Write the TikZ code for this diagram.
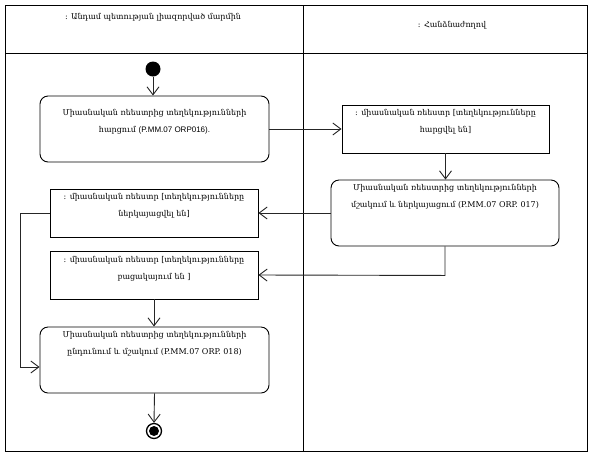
\documentclass[tikz,border=0pt]{standalone}
\usepackage{fontspec}
\setmainfont{DejaVu Serif}
\newfontfamily\sansf{Liberation Sans}
\usetikzlibrary{arrows.meta}
\begin{document}
\begin{tikzpicture}[x=1pt,y=-1pt,
  act/.style={draw=black, line width=0.9pt, rounded corners=8pt, inner sep=0pt, minimum width=229pt, minimum height=66pt},
  obj/.style={draw=black, line width=0.9pt, inner sep=0pt, minimum width=208pt, minimum height=48pt},
  txt/.style={anchor=north, inner sep=0pt, align=center, font=\fontsize{8}{16.5}\selectfont},
  hdr/.style={inner sep=0pt, font=\fontsize{8}{9}\selectfont},
  flow/.style={draw=black!85, line width=0.9pt, -{Straight Barb[length=8pt,width=12pt]}}]
\useasboundingbox (0,0) rectangle (591,456);
\fill[white] (0,0) rectangle (591,456);
% lanes
\draw[line width=0.9pt] (5,5) rectangle (587,451);
\draw[line width=0.9pt] (5,53) -- (587,53);
\draw[line width=0.9pt] (303,5) -- (303,451);
\node[hdr] (h1) at (153,17) {: Անդամ պետության լիազորված մարմին};
\node[hdr] (h2) at (452,25) {: Հանձնաժողով};
% start / end
\node[circle, fill=black, inner sep=0pt, minimum size=15pt] (st) at (153,69) {};
\node[circle, draw=black, line width=1.3pt, inner sep=0pt, minimum size=15pt] (en) at (154,431) {};
\node[circle, fill=black, inner sep=0pt, minimum size=10pt] (enin) at (154,431) {};
% boxes
\node[act] (b1) at (154.5,129) {};
\node[obj, minimum width=207pt] (b2) at (445.5,129) {};
\node[act, minimum width=228pt] (b3) at (445,213) {};
\node[obj] (b4) at (154,213) {};
\node[obj] (b5) at (154,275) {};
\node[act] (b6) at (154.5,360) {};
% texts
\node[txt] (t1) at ([yshift=-14pt]b1.north) {Միասնական ռեեստրից տեղեկությունների\\ հարցում {\sansf (P.MM.07 ORP016).}};
\node[txt] (t2) at ([yshift=-5pt]b2.north) {: միասնական ռեեստր [տեղեկությունները\\ հարցվել են]};
\node[txt] (t3) at ([yshift=-5pt]b3.north) {Միասնական ռեեստրից տեղեկությունների\\ մշակում և ներկայացում (P.MM.07 ORP. 017)};
\node[txt] (t4) at ([yshift=-5pt]b4.north) {: միասնական ռեեստր [տեղեկությունները\\ ներկայացվել են]};
\node[txt] (t5) at ([yshift=-6pt]b5.north) {: միասնական ռեեստր [տեղեկությունները\\ բացակայում են ]};
\node[txt] (t6) at ([yshift=-5pt]b6.north) {Միասնական ռեեստրից տեղեկությունների\\ ընդունում և մշակում (P.MM.07 ORP. 018)};
% connectors
\draw[flow] (st) -- (b1.north -| st);
\draw[flow] (b1.east) -- (b2.west);
\draw[flow] (b2.south) -- (b3.north -| b2.south);
\draw[flow] (b3.west) -- (b4.east);
\draw[flow] (b3.south) -- ++(0,29) -- (b5.east);
\draw[flow] (b4.west) -- ++(-29,0) |- ([yshift=-7pt]b6.west);
\draw[flow] (b5.south) -- (b6.north -| b5.south);
\draw[flow] (b6.south) -- (en.north);
\end{tikzpicture}
\end{document}
